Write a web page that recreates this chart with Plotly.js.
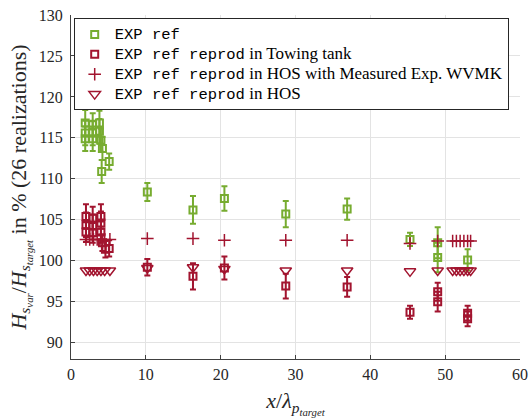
<!DOCTYPE html>
<html>
<head>
<meta charset="utf-8">
<script src="https://cdn.plot.ly/plotly-3.0.1.min.js"></script>
<style>html,body{margin:0;padding:0;background:#fff;}#chart{width:530px;height:419px;}</style>
</head>
<body>
<div id="chart"></div>
<script>
// EXP ref (green, with error bars)
const expRefX = [1.9, 1.9, 1.9, 2.9, 2.9, 2.9, 3.8, 3.8, 4.0, 4.2, 4.1, 5.1, 10.2, 16.3, 20.5, 28.7, 36.9, 45.3, 49.0, 49.0, 53.0];
const expRefY = [116.8, 115.6, 114.9, 116.6, 115.6, 114.9, 116.8, 115.8, 114.7, 113.7, 110.9, 112.1, 108.4, 106.2, 107.6, 105.7, 106.3, 102.6, 102.2, 100.4, 100.1];
const expRefErr = [1.6, 1.5, 1.5, 1.4, 1.5, 1.5, 1.5, 1.5, 1.4, 1.4, 1.4, 1.0, 1.1, 1.7, 1.5, 1.6, 1.3, 0.8, 1.9, 1.8, 1.3];

// EXP ref reprod in Towing tank (red, with error bars)
const towX = [2.0, 2.0, 2.0, 2.9, 2.9, 2.9, 4.0, 4.0, 4.0, 4.2, 4.6, 5.1, 10.2, 16.3, 20.5, 28.7, 36.9, 45.3, 49.0, 49.0, 53.0, 53.0];
const towY = [105.4, 104.4, 103.5, 105.2, 104.3, 103.4, 105.4, 104.6, 103.5, 102.2, 101.4, 101.5, 99.2, 98.1, 99.1, 96.9, 96.8, 93.7, 96.2, 95.0, 93.6, 92.9];
const towErr = [1.5, 1.5, 1.2, 1.4, 1.3, 1.2, 1.5, 1.4, 1.3, 1.0, 1.0, 1.0, 1.0, 1.6, 1.4, 1.5, 1.2, 0.8, 1.1, 1.2, 0.9, 0.9];

// EXP ref reprod in HOS with Measured Exp. WVMK (plus)
const hosMeasX = [2.0, 2.5, 3.0, 3.5, 4.0, 4.5, 5.2, 10.2, 16.3, 20.5, 28.7, 36.9, 45.3, 49.0, 51.0, 51.5, 52.0, 52.5, 53.0, 53.4];
const hosMeasY = [102.6, 102.6, 102.6, 102.6, 102.6, 102.6, 102.6, 102.7, 102.7, 102.5, 102.5, 102.5, 102.1, 102.4, 102.4, 102.4, 102.4, 102.4, 102.4, 102.4];

// EXP ref reprod in HOS (triangles)
const hosX = [2.0, 2.5, 3.0, 3.5, 4.0, 4.5, 5.2, 10.2, 16.3, 20.5, 28.7, 36.9, 45.3, 49.0, 51.0, 51.5, 52.0, 52.5, 53.0, 53.4];
const hosY = [98.8, 98.8, 98.8, 98.8, 98.8, 98.8, 98.8, 99.1, 99.2, 99.0, 98.8, 98.8, 98.7, 98.8, 98.8, 98.8, 98.8, 98.8, 98.8, 98.8];

const xTicks = [0, 10, 20, 30, 40, 50, 60];
const yTicks = [90, 95, 100, 105, 110, 115, 120, 125, 130];

const green = '#77AC30';
const red = '#A2142F';
const serifFam = "'Liberation Serif', 'DejaVu Serif', serif";
const tt = s => `<span style="font-family:'Liberation Mono', 'DejaVu Sans Mono', monospace;font-size:15.5px">${s}</span>`;
const rm = s => `<span style="font-family:${serifFam};font-size:17px">${s}</span>`;

const traces = [
  {
    x: expRefX, y: expRefY, type: 'scatter', mode: 'markers',
    name: tt('EXP ref'),
    marker: {symbol: 'square-open', size: 7, color: green, line: {width: 2, color: green}},
    error_y: {type: 'data', array: expRefErr, visible: true, color: green, thickness: 2, width: 3}
  },
  {
    x: towX, y: towY, type: 'scatter', mode: 'markers',
    name: tt('EXP ref reprod') + rm(' in Towing tank'),
    marker: {symbol: 'square-open', size: 7, color: red, line: {width: 2, color: red}},
    error_y: {type: 'data', array: towErr, visible: true, color: red, thickness: 2, width: 3}
  },
  {
    x: hosMeasX, y: hosMeasY, type: 'scatter', mode: 'markers',
    name: tt('EXP ref reprod') + rm(' in HOS with Measured Exp. WVMK'),
    marker: {symbol: 'cross-thin-open', size: 9, color: red, line: {width: 1.5, color: red}}
  },
  {
    x: hosX, y: hosY, type: 'scatter', mode: 'markers',
    name: tt('EXP ref reprod') + rm(' in HOS'),
    marker: {symbol: 'triangle-down-open', size: 10, color: red, line: {width: 1.5, color: red}}
  }
];

const axisCommon = {
  showline: true, linecolor: '#404040', linewidth: 1,
  ticks: 'inside', ticklen: 4, tickcolor: '#404040',
  showgrid: true, gridcolor: '#e3e3e3', gridwidth: 1,
  zeroline: false, mirror: false,
  tickfont: {family: serifFam, size: 16, color: '#262626'}
};

const layout = {
  width: 530, height: 419,
  margin: {l: 71, r: 10, t: 15, b: 60},
  paper_bgcolor: '#fff', plot_bgcolor: '#fff',
  showlegend: true,
  font: {family: serifFam, size: 14, color: '#000'},
  xaxis: Object.assign({}, axisCommon, {
    range: [0, 60], tickvals: xTicks, ticktext: xTicks.map(String),
    ticklabelstandoff: 1,
    title: {text: '<i>x</i>/<i>λ</i><sub><i>p</i><sub><i>target</i></sub></sub>', font: {size: 22, color: '#262626'}, standoff: 10}
  }),
  yaxis: Object.assign({}, axisCommon, {
    range: [88, 130], tickvals: yTicks, ticktext: yTicks.map(String),
    ticklabelstandoff: 4,
    title: {text: '<i>H</i><sub><i>s</i><sub><i>var</i></sub></sub>/<i>H</i><sub><i>s</i><sub><i>target</i></sub></sub> in % (26 realizations)\u00a0\u00a0\u00a0\u00a0\u00a0', font: {size: 22, color: '#262626'}, standoff: 6}
  }),
  legend: {
    x: 0.006, y: 0.99, xanchor: 'left', yanchor: 'top',
    bgcolor: '#fff', bordercolor: '#262626', borderwidth: 1,
    font: {family: serifFam, size: 13, color: '#000'},
    tracegroupgap: 0
  }
};

Plotly.newPlot('chart', traces, layout, {displayModeBar: false, staticPlot: true});
</script>
</body>
</html>
